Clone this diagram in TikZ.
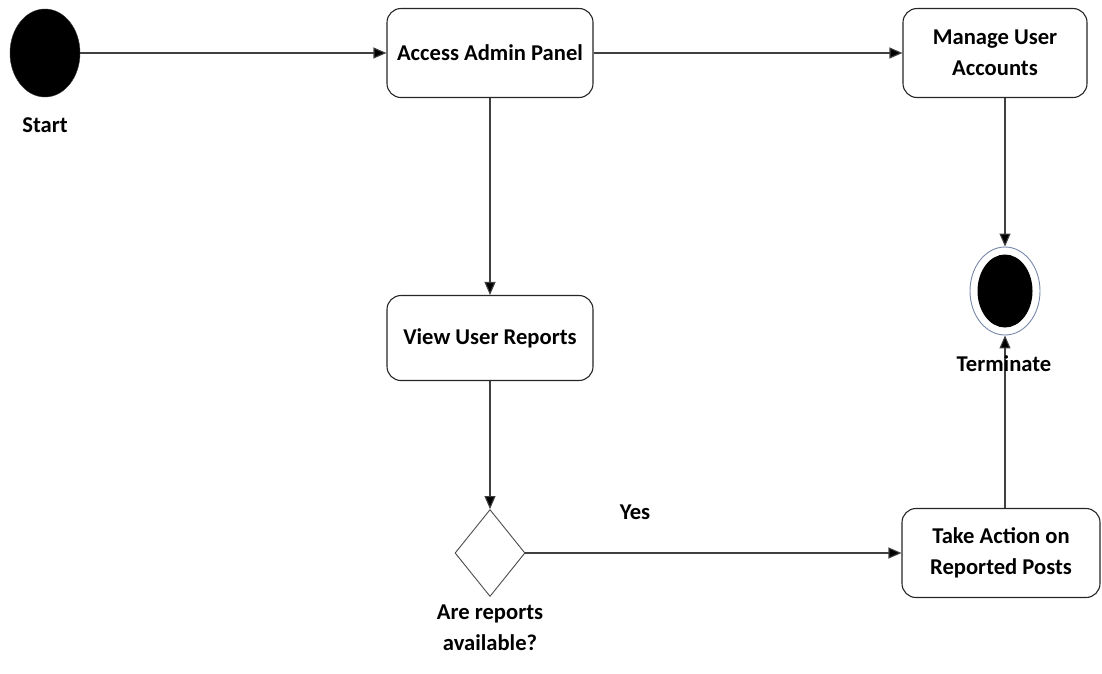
\documentclass[tikz,border=0pt]{standalone}
\usepackage{fontspec}
\setmainfont{Carlito}
\usetikzlibrary{shapes.geometric,arrows.meta}
\definecolor{ringgray}{RGB}{120,135,170}
\tikzset{
  txt/.style={font=\bfseries\fontsize{22.6}{31}\selectfont, align=center, text=black},
  action/.style={txt, draw=black!85, line width=1.1pt, rounded corners=14pt, fill=white,
    minimum width=206pt, minimum height=89pt, inner sep=0pt},
  decision/.style={draw=black!70, line width=0.9pt, diamond, fill=white, inner sep=0pt,
    minimum width=70pt, minimum height=87pt},
  flow/.style={draw=black!75, line width=1.1pt, -{Triangle[length=13pt,width=11pt,fill=black]}},
}
\begin{document}
\begin{tikzpicture}[x=1pt,y=-1pt]
\useasboundingbox (0,0) rectangle (1102,673);
% initial and final states
\node (start) [ellipse, fill=black, draw=black!80, minimum width=70pt, minimum height=88pt, inner sep=0pt] at (45,53) {};
\node (startlbl) [txt] at (45,125) {Start};
\node (endring) [ellipse, draw=ringgray, line width=0.9pt, fill=white, minimum width=70pt, minimum height=88pt, inner sep=0pt] at (1005,291) {};
\node (enddot) [ellipse, fill=black, minimum width=55pt, minimum height=73pt, inner sep=0pt] at (1005,291) {};
% activities
\node (access) [action] at (490,53) {Access Admin Panel};
\node (manage) [action, minimum width=184pt] at (995,53) {Manage User\\Accounts};
\node (view) [action, minimum width=206pt, minimum height=85pt] at (490,338) {View User Reports};
\node (take) [action, minimum width=198pt] at (1001,553) {Take Action on\\Reported Posts};
\node (dec) [decision] at (490,553) {};
\node (declbl) [txt] at (490,628) {Are reports\\available?};
\node (yes) [txt] at (635,512) {Yes};
% connectors
\draw[flow] (start.east) -- (access.west);
\draw[flow] (access.east) -- (access.east -| manage.west);
\draw[flow] (access.south) -- (view.north);
\draw[flow] (view.south) -- (dec.north);
\draw[flow] (dec.east) -- (take.west);
\draw[flow] (manage.south -| endring.north) -- (endring.north);
\draw[flow] (take.north -| endring.south) -- (endring.south);
\node (termlbl) [txt, fill=none] at (1004,364) {Terminate};
\end{tikzpicture}
\end{document}
